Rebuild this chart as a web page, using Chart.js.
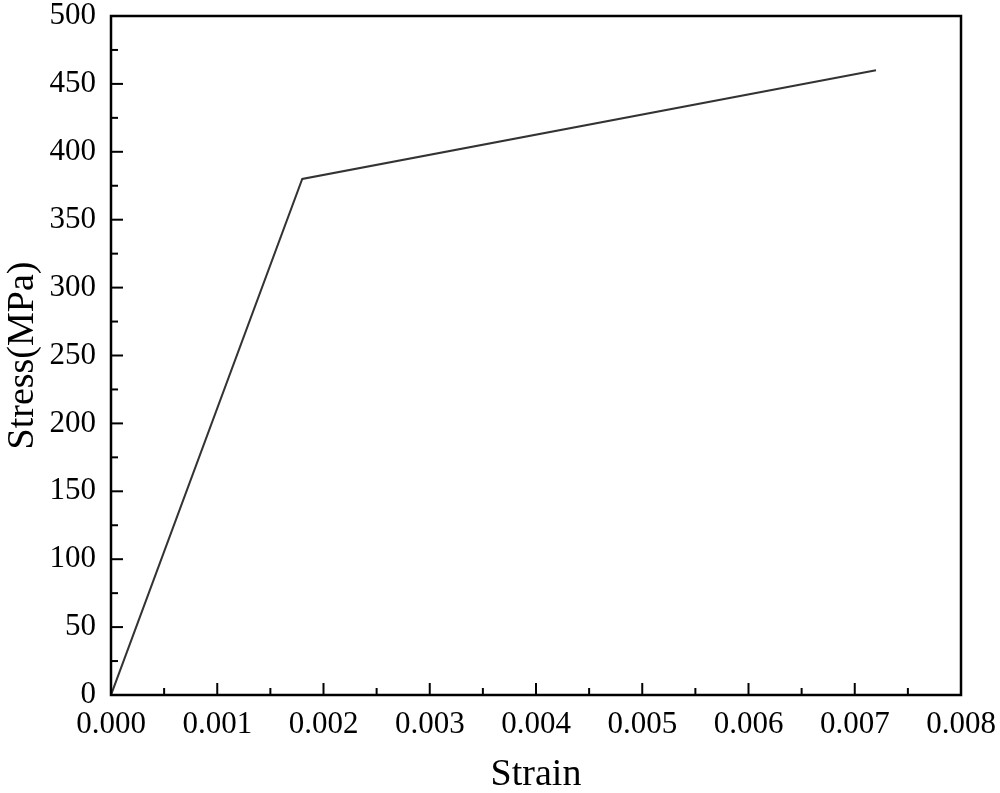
<!DOCTYPE html>
<html>
<head>
<meta charset="utf-8">
<script src="https://cdn.jsdelivr.net/npm/chart.js@4.4.0/dist/chart.umd.min.js"></script>
<style>
  html, body { margin: 0; padding: 0; background: #fff; }
  #wrap { width: 1000px; height: 793px; }
</style>
</head>
<body>
<div id="wrap"><canvas id="c" width="1000" height="793"></canvas></div>
<script>
// stress-strain curve (bilinear)
const strain = [0, 0.0018, 0.0072];
const stress = [0, 380, 460];

const xMajor = [0, 0.001, 0.002, 0.003, 0.004, 0.005, 0.006, 0.007, 0.008];
const xMinor = [0.0005, 0.0015, 0.0025, 0.0035, 0.0045, 0.0055, 0.0065, 0.0075];
const yMajor = [0, 50, 100, 150, 200, 250, 300, 350, 400, 450, 500];
const yMinor = [25, 75, 125, 175, 225, 275, 325, 375, 425, 475];

const FONT = "'Liberation Serif', 'Times New Roman', serif";
Chart.defaults.color = "#000";
Chart.defaults.font.family = FONT;

// box frame + inward ticks, drawn at the scales' own pixel positions
const frame = {
  id: "frame",
  afterDraw(chart) {
    const { ctx, chartArea: a, scales: { x, y } } = chart;
    ctx.save();
    ctx.strokeStyle = "#000";
    ctx.lineWidth = 2;
    const tick = (x1, y1, x2, y2) => { ctx.beginPath(); ctx.moveTo(x1, y1); ctx.lineTo(x2, y2); ctx.stroke(); };
    xMajor.forEach(v => { const p = x.getPixelForValue(v); tick(p, a.bottom, p, a.bottom - 12); });
    xMinor.forEach(v => { const p = x.getPixelForValue(v); tick(p, a.bottom, p, a.bottom - 7); });
    yMajor.forEach(v => { const p = y.getPixelForValue(v); tick(a.left, p, a.left + 12, p); });
    yMinor.forEach(v => { const p = y.getPixelForValue(v); tick(a.left, p, a.left + 7, p); });
    ctx.lineWidth = 2.5;
    ctx.strokeRect(a.left, a.top, a.right - a.left, a.bottom - a.top);
    ctx.restore();
  },
};

new Chart(document.getElementById("c").getContext("2d"), {
  type: "line",
  data: {
    datasets: [{
      data: strain.map((s, i) => ({ x: s, y: stress[i] })),
      borderColor: "#333",
      borderWidth: 2,
      pointRadius: 0,
      tension: 0,
      fill: false,
    }],
  },
  options: {
    responsive: false,
    animation: false,
    layout: { padding: { left: 0, top: 16, right: 39, bottom: 0 } },
    plugins: { legend: { display: false }, tooltip: { enabled: false } },
    scales: {
      x: {
        type: "linear", min: 0, max: 0.008,
        grid: { display: false, drawTicks: false },
        border: { display: false },
        afterBuildTicks: s => { s.ticks = xMajor.map(v => ({ value: v })); },
        ticks: { font: { size: 31 }, padding: 11, maxRotation: 0, callback: v => v.toFixed(3) },
        title: { display: true, text: "Strain", font: { size: 38 }, padding: { top: 0, bottom: -5 }, lineHeight: 1 },
        afterFit: s => { s.height = 98; s.paddingLeft = 0; s.paddingRight = 0; },
      },
      y: {
        type: "linear", min: 0, max: 500,
        grid: { display: false, drawTicks: false },
        border: { display: false },
        afterBuildTicks: s => { s.ticks = yMajor.map(v => ({ value: v })); },
        ticks: { font: { size: 31 }, padding: 15 },
        title: { display: true, text: "Stress(MPa)", font: { size: 38 }, padding: { top: 0, bottom: 0 }, lineHeight: 1 },
        afterFit: s => { s.width = 111; s.paddingTop = 0; s.paddingBottom = 0; },
      },
    },
  },
  plugins: [frame],
});
</script>
</body>
</html>
